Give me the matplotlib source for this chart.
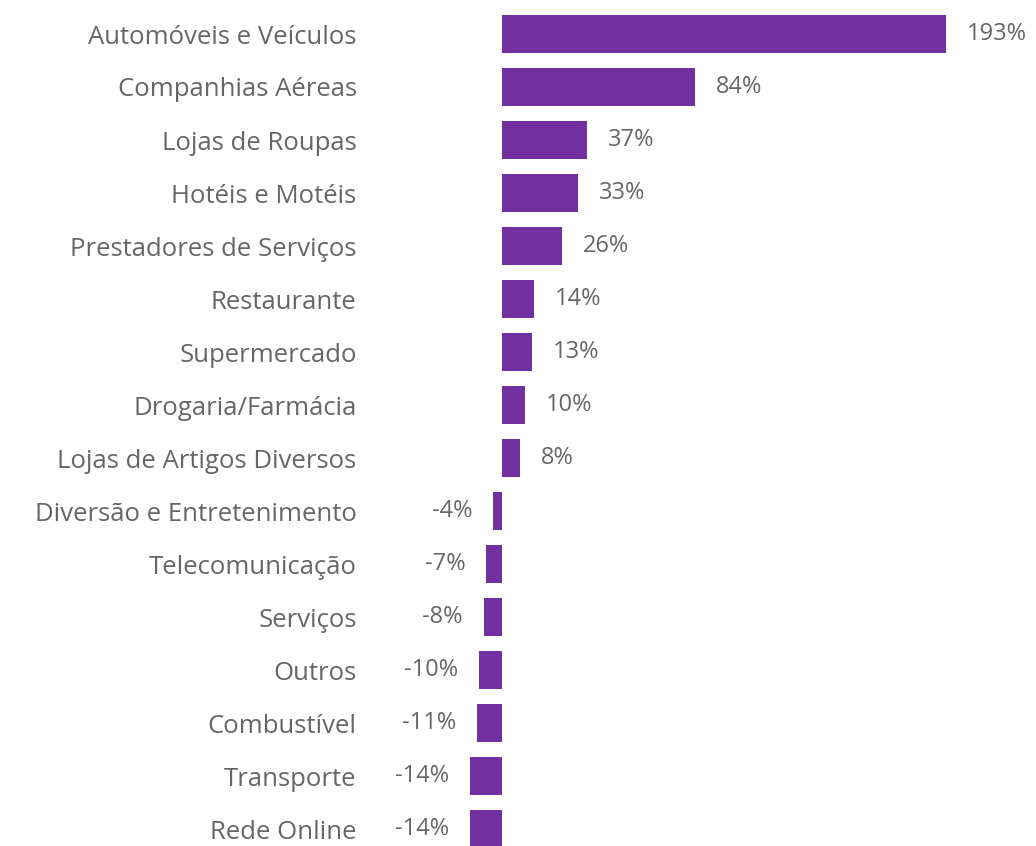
import matplotlib.pyplot as plt

categorias = ["Automóveis e Veículos", "Companhias Aéreas", "Lojas de Roupas",
              "Hotéis e Motéis", "Prestadores de Serviços", "Restaurante",
              "Supermercado", "Drogaria/Farmácia", "Lojas de Artigos Diversos",
              "Diversão e Entretenimento", "Telecomunicação", "Serviços",
              "Outros", "Combustível", "Transporte", "Rede Online"]
variacao = [193, 84, 37, 33, 26, 14, 13, 10, 8, -4, -7, -8, -10, -11, -14, -14]

roxo = "#7030A0"
cinza = "#666666"

plt.rcParams['font.family'] = ['Open Sans', 'DejaVu Sans']

fig = plt.figure(figsize=(10.36, 8.46), dpi=100)
# eixo com a borda esquerda em ~365 px; zero em ~502 px
px_por_pct = 2.3
esq = 365 / 1036
ax = fig.add_axes([esq, 0, 1 - esq, 1])

pos = list(range(len(categorias)))
ax.barh(pos, variacao, height=0.72, color=roxo)

# linhas a cada ~53 px, primeira em y=34 px
ax.set_xlim((365 - 502) / px_por_pct, (1036 - 502) / px_por_pct)
ax.set_ylim((846 - 34) / 53, -34 / 53)

ax.set_yticks(pos)
ax.set_yticklabels(categorias, fontsize=18.5, color=cinza)
ax.tick_params(axis='y', length=0, pad=6)
ax.set_xticks([])
for s in ax.spines.values():
    s.set_visible(False)

for p, v in zip(pos, variacao):
    off = 9 if v >= 0 else -9
    ax.text(v + off, p, f"{v}%", va='center',
            ha='left' if v >= 0 else 'right',
            fontsize=17, color=cinza)

fig.savefig("out.png", dpi=100, facecolor="white")
